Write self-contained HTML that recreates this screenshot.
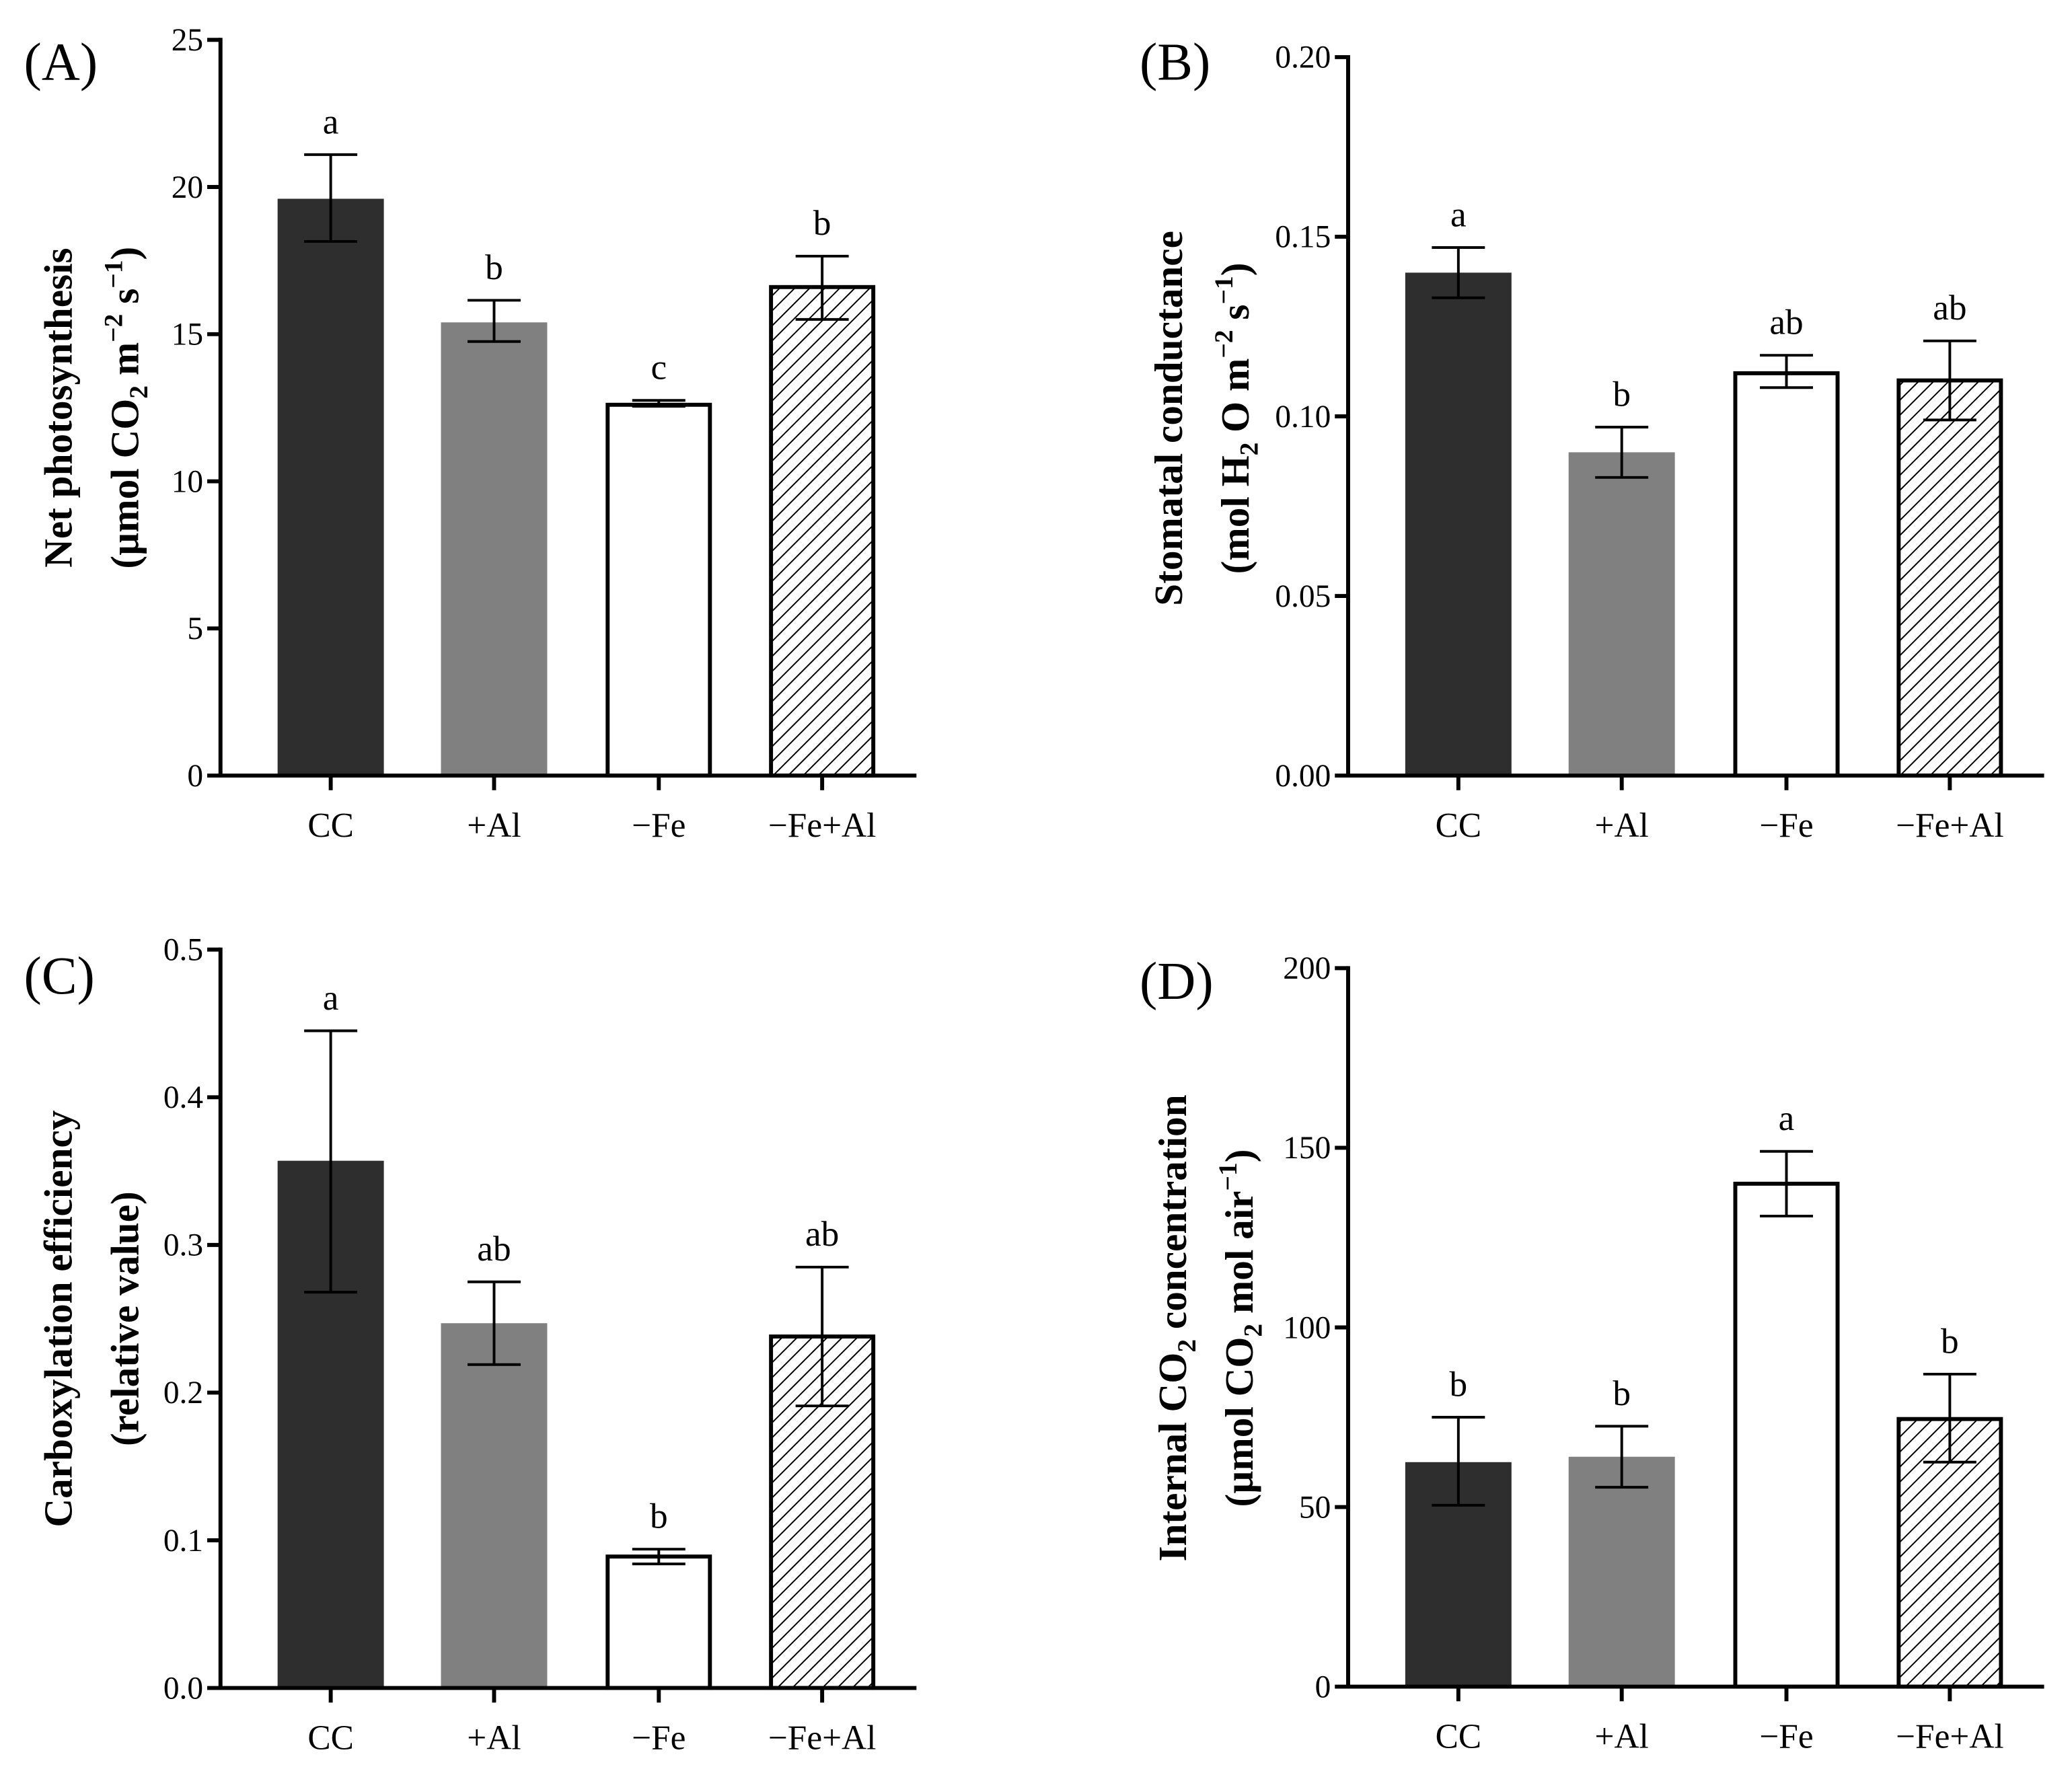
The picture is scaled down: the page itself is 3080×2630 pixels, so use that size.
<!DOCTYPE html>
<html><head><meta charset="utf-8"><style>
html,body{margin:0;padding:0;background:#fff}
svg{display:block}
text{font-family:"Liberation Serif",serif;fill:#000}
</style></head><body>
<svg id="fig" width="3080" height="2630" viewBox="0 0 1560 1332" preserveAspectRatio="none" xmlns="http://www.w3.org/2000/svg">
<defs>
<pattern id="hatch" patternUnits="userSpaceOnUse" width="8" height="8" patternTransform="rotate(45)">
<rect width="8" height="8" fill="#fff"/>
<line x1="0" y1="0" x2="0" y2="8" stroke="#000" stroke-width="2"/>
</pattern>
</defs>
</svg>
<script>
const categories = ["CC", "+Al", "\u2212Fe", "\u2212Fe+Al"];
const valuesA = [19.6, 15.4, 12.6, 16.6];
const lowA = [18.15, 14.75, 12.55, 15.5];
const highA = [21.1, 16.15, 12.75, 17.65];
const lettersA = ["a", "b", "c", "b"];
const ticksA = [0, 5, 10, 15, 20, 25];
const tickLabelsA = ["0", "5", "10", "15", "20", "25"];

const valuesB = [0.140, 0.090, 0.112, 0.110];
const lowB = [0.133, 0.083, 0.108, 0.099];
const highB = [0.147, 0.097, 0.117, 0.121];
const lettersB = ["a", "b", "ab", "ab"];
const ticksB = [0, 0.05, 0.10, 0.15, 0.20];
const tickLabelsB = ["0.00", "0.05", "0.10", "0.15", "0.20"];

const valuesC = [0.357, 0.247, 0.089, 0.238];
const lowC = [0.268, 0.219, 0.084, 0.191];
const highC = [0.445, 0.275, 0.094, 0.285];
const lettersC = ["a", "ab", "b", "ab"];
const ticksC = [0, 0.1, 0.2, 0.3, 0.4, 0.5];
const tickLabelsC = ["0.0", "0.1", "0.2", "0.3", "0.4", "0.5"];

const valuesD = [62.5, 64, 140, 74.5];
const lowD = [50.5, 55.5, 131, 62.5];
const highD = [75, 72.5, 149, 87];
const lettersD = ["b", "b", "a", "b"];
const ticksD = [0, 50, 100, 150, 200];
const tickLabelsD = ["0", "50", "100", "150", "200"];

const NS = "http://www.w3.org/2000/svg";
const svg = document.getElementById("fig");
function mk(tag, attrs, parent) {
  const e = document.createElementNS(NS, tag);
  for (const k in attrs) e.setAttribute(k, attrs[k]);
  (parent || svg).appendChild(e);
  return e;
}
const fills = ["#2e2e2e", "#808080", "#ffffff", "url(#hatch)"];
const centersOff = [83, 206, 330, 453];

function panel(p) {
  const g = mk("g", {});
  
  
  const ax = p.ax, y0 = p.y0, yTop = p.yTop, vmax = p.ticks[p.ticks.length - 1];
  const Y = v => y0 - (v / vmax) * (y0 - yTop);
  const X = i => ax + centersOff[i];
  const bw = 80;
  p.values.forEach((v, i) => {
    const outlined = i >= 2;
    const r = mk("rect", {x: X(i) - bw / 2 + (outlined ? 1.5 : 0), y: Y(v), width: bw - (outlined ? 3 : 0), height: y0 - Y(v), fill: fills[i], stroke: outlined ? "#000" : "none", "stroke-width": 3}, g);
    
    
    const eg = mk("g", {stroke: "#000", "stroke-width": 2}, g);
    
    
    mk("line", {x1: X(i), x2: X(i), y1: Y(p.low[i]), y2: Y(p.high[i])}, eg);
    mk("line", {x1: X(i) - 20, x2: X(i) + 20, y1: Y(p.high[i]), y2: Y(p.high[i])}, eg);
    mk("line", {x1: X(i) - 20, x2: X(i) + 20, y1: Y(p.low[i]), y2: Y(p.low[i])}, eg);
    const t = mk("text", {x: X(i), y: Y(p.high[i]) - 16, "text-anchor": "middle", "font-size": 27}, g);
    t.textContent = p.letters[i];
    
    
    mk("line", {x1: X(i), x2: X(i), y1: y0, y2: y0 + 11, stroke: "#000", "stroke-width": 3}, g);
    const c = mk("text", {x: X(i), y: y0 + 46, "text-anchor": "middle", "font-size": 26}, g);
    c.textContent = categories[i];
    
    
  });
  const ya = mk("line", {x1: ax, x2: ax, y1: yTop - 1.5, y2: y0 + 1.5, stroke: "#000", "stroke-width": 3}, g);
  
  
  const xa = mk("line", {x1: ax - 1.5, x2: ax + 524, y1: y0, y2: y0, stroke: "#000", "stroke-width": 3}, g);
  
  
  p.ticks.forEach((tv, k) => {
    mk("line", {x1: ax - 10, x2: ax, y1: Y(tv), y2: Y(tv), stroke: "#000", "stroke-width": 3}, g);
    const t = mk("text", {x: ax - 13, y: Y(tv) + 8, "text-anchor": "end", "font-size": 24}, g);
    t.textContent = p.tickLabels[k];
    
    
  });
  const pl = mk("text", {x: p.lx, y: p.ly, "font-size": 40}, g);
  pl.textContent = "(" + p.id + ")";
  
  
  const tt = mk("text", {transform: `translate(${p.tx},${p.ty}) rotate(-90)`, "text-anchor": "middle", "font-size": 30, "font-weight": "bold"}, g);
  
  
  tt.innerHTML = p.title1;
  const tt2 = mk("text", {transform: `translate(${p.tx + 50},${p.ty}) rotate(-90)`, "text-anchor": "middle", "font-size": 30, "font-weight": "bold"}, g);
  
  
  tt2.innerHTML = p.title2;
}
const sub = s => `<tspan font-size="20" dy="7">${s}</tspan><tspan dy="-7"> </tspan>`;
const sup = s => `<tspan font-size="20" dy="-12">${s}</tspan><tspan dy="12"> </tspan>`;
const sup2 = s => `<tspan font-size="20" dy="-12">${s}</tspan><tspan dy="12">)</tspan>`;

panel({id: "A", ax: 166, y0: 584, yTop: 30, values: valuesA, low: lowA, high: highA, letters: lettersA, ticks: ticksA, tickLabels: tickLabelsA,
  lx: 18, ly: 60, tx: 54, ty: 307, title1: "Net photosynthesis", title2: "(µmol CO" + sub("2") + "m" + sup("\u22122") + "s" + sup2("\u22121")});
panel({id: "B", ax: 1015, y0: 584, yTop: 43, values: valuesB, low: lowB, high: highB, letters: lettersB, ticks: ticksB, tickLabels: tickLabelsB,
  lx: 858, ly: 60, tx: 890, ty: 315, title1: "Stomatal conductance", title2: "(mol H" + sub("2") + "O m" + sup("\u22122") + "s" + sup2("\u22121")});
panel({id: "C", ax: 166, y0: 1271, yTop: 715, values: valuesC, low: lowC, high: highC, letters: lettersC, ticks: ticksC, tickLabels: tickLabelsC,
  lx: 18, ly: 748, tx: 54, ty: 993, title1: "Carboxylation efficiency", title2: "(relative value)"});
panel({id: "D", ax: 1015, y0: 1270, yTop: 729, values: valuesD, low: lowD, high: highD, letters: lettersD, ticks: ticksD, tickLabels: tickLabelsD,
  lx: 858, ly: 752, tx: 893, ty: 1000, title1: "Internal CO" + sub("2") + "concentration", title2: "(µmol CO" + sub("2") + "mol air" + sup2("\u22121")});
</script>
</body></html>
